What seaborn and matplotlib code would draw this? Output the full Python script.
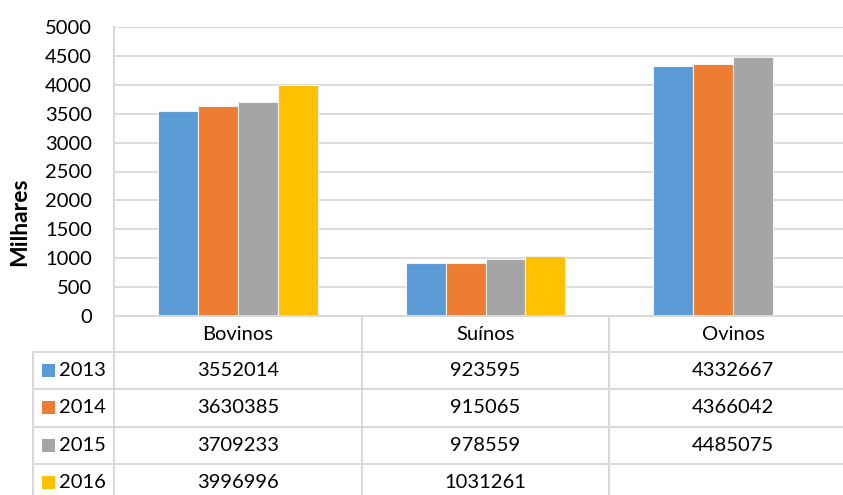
import matplotlib
matplotlib.use("Agg")
import matplotlib.pyplot as plt
import matplotlib.transforms as mtransforms
from matplotlib.patches import Rectangle
import seaborn as sns
import pandas as pd
import numpy as np

# ---- data ----
categories = ["Bovinos", "Suínos", "Ovinos"]
years = ["2013", "2014", "2015", "2016"]
values_2013 = [3552014, 923595, 4332667]
values_2014 = [3630385, 915065, 4366042]
values_2015 = [3709233, 978559, 4485075]
values_2016 = [3996996, 1031261, None]
colors = ["#5B9BD5", "#ED7D31", "#A5A5A5", "#FFC000"]
yticks = list(range(0, 5001, 500))
ylabel = "Milhares"

series = [values_2013, values_2014, values_2015, values_2016]
rows = []
for y, vals in zip(years, series):
    for c, v in zip(categories, vals):
        rows.append({"cat": c, "year": y,
                     "val": np.nan if v is None else v / 1000.0})
df = pd.DataFrame(rows)

sns.set_theme(style="white")
plt.rcParams["font.family"] = ["Lato", "DejaVu Sans"]

W, H = 843, 495
fig = plt.figure(figsize=(W / 100, H / 100), dpi=100)

def fx(px):
    return px / W

def fy(py):
    return 1 - py / H

FS = 14.5
ax_left, ax_right, ax_top, ax_bottom = 114, 857, 27, 316
ax = fig.add_axes([fx(ax_left), fy(ax_bottom), fx(ax_right - ax_left),
                   (ax_bottom - ax_top) / H])

sns.barplot(data=df, x="cat", y="val", hue="year", order=categories,
            hue_order=years, palette=colors, saturation=1, width=0.645,
            ax=ax, edgecolor="#f2f2f2", linewidth=0.8, legend=False,
            errorbar=None)

ax.set_xlim(-0.5, len(categories) - 0.5)
ax.set_ylim(0, 5000)
ax.set_yticks(yticks)
ax.set_yticklabels([str(t) for t in yticks], fontsize=FS, color="#000000")
ax.tick_params(axis="y", length=0, pad=16)
ax.set_xticks([])
ax.set_xlabel("")
ax.set_ylabel("")
ax.yaxis.grid(True, color="#d9d9d9", linewidth=1.3)
ax.set_axisbelow(True)
for s in ["top", "right"]:
    ax.spines[s].set_visible(False)
for s in ["left", "bottom"]:
    ax.spines[s].set_color("#d9d9d9")
    ax.spines[s].set_linewidth(1.5)

fig.text(fx(20), fy(222), ylabel, rotation=90, ha="center", va="center",
         fontsize=16.5, fontweight="bold", color="#000000")

# ---- data table ----
bt = mtransforms.blended_transform_factory(ax.transData, fig.transFigure)
line_c = "#d9d9d9"
lw = 1.5
header_top, header_bot = 316, 352
row_h = 37.3
row_edges = [header_bot + i * row_h for i in range(len(years) + 1)]

# vertical lines between categories (data coords)
for i in range(len(categories) + 1):
    xb = i - 0.5
    fig.add_artist(plt.Line2D([xb, xb], [fy(header_top), fy(H + 10)],
                              transform=bt, color=line_c, lw=lw,
                              clip_on=False))
# left border of legend column
fig.add_artist(plt.Line2D([fx(33), fx(33)], [fy(header_bot), fy(H + 10)],
                          transform=fig.transFigure, color=line_c, lw=lw))
# horizontal lines
for yb in row_edges:
    fig.add_artist(plt.Line2D([fx(33), fx(W + 20)], [fy(yb), fy(yb)],
                              transform=fig.transFigure, color=line_c, lw=lw))

# header labels
for i, c in enumerate(categories):
    t = fig.text(0, fy((header_top + header_bot) / 2), c, transform=bt,
                 ha="center", va="center", fontsize=FS, color="#000000")
    t.set_x(i)

# rows
for r, (y, vals, col) in enumerate(zip(years, series, colors)):
    yc = (row_edges[r] + row_edges[r + 1]) / 2
    fig.add_artist(Rectangle((fx(42), fy(yc + 6.5)), fx(13), 13 / H,
                             transform=fig.transFigure, facecolor=col,
                             edgecolor="none"))
    fig.text(fx(59), fy(yc), y, ha="left", va="center", fontsize=FS,
             color="#000000")
    for i, v in enumerate(vals):
        if v is None:
            continue
        t = fig.text(0, fy(yc), str(v), transform=bt, ha="center",
                     va="center", fontsize=FS, color="#000000")
        t.set_x(i)

fig.savefig("out.png", dpi=100)
